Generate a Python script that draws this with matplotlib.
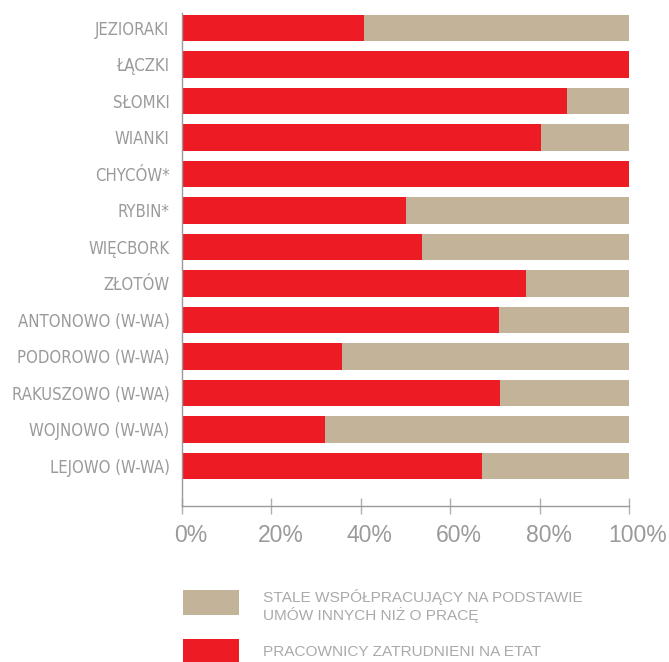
import matplotlib
matplotlib.use("Agg")
import matplotlib.pyplot as plt
from matplotlib.patches import Rectangle
from matplotlib.transforms import ScaledTranslation

# udział pracowników etatowych (%) w poszczególnych lokalizacjach
places = ["JEZIORAKI", "ŁĄCZKI", "SŁOMKI", "WIANKI", "CHYCÓW*", "RYBIN*",
          "WIĘCBORK", "ZŁOTÓW", "ANTONOWO (W-WA)", "PODOROWO (W-WA)",
          "RAKUSZOWO (W-WA)", "WOJNOWO (W-WA)", "LEJOWO (W-WA)"]
etat = [40.8, 100, 86.1, 80.3, 100, 50.1, 53.8, 77.0, 70.9, 35.8, 71.1, 31.9, 67.1]
inne = [100 - v for v in etat]

legend_labels = ["STALE WSPÓŁPRACUJĄCY NA PODSTAWIE\nUMÓW INNYCH NIŻ O PRACĘ",
                 "PRACOWNICY ZATRUDNIENI NA ETAT"]
xticks = [0, 20, 40, 60, 80, 100]

RED = "#ED1C24"
TAN = "#C2B399"
GREY = "#9a9a9a"

fig = plt.figure(figsize=(6.69, 6.62), dpi=100)
ax = fig.add_axes([182 / 669, 1 - 506 / 662, 447 / 669, 493 / 662])

y = list(range(len(places)))
ax.barh(y, etat, height=0.72, color=RED, linewidth=0)
ax.barh(y, inne, left=etat, height=0.72, color=TAN, linewidth=0)

ax.set_xlim(0, 100)
ax.set_ylim(len(places) - 1 + 1.10, -0.41)

ax.set_yticks(y)
ax.set_yticklabels(places, family="DejaVu Sans", stretch="condensed",
                   fontsize=12, color=GREY)
ax.tick_params(axis="y", length=0, pad=9)

ax.set_xticks(xticks)
ax.set_xticklabels([f"{t}%" for t in xticks], family="Liberation Sans",
                   fontsize=16.5, color=GREY)
ax.tick_params(axis="x", direction="inout", length=12, width=1, color="#b0b0b0", pad=7)
# etykiety procentów lekko przesunięte w prawo
shift = ScaledTranslation(9 / 100, 0, fig.dpi_scale_trans)
for lbl in ax.get_xticklabels():
    lbl.set_transform(lbl.get_transform() + shift)

for s in ["top", "right"]:
    ax.spines[s].set_visible(False)
for s in ["left", "bottom"]:
    ax.spines[s].set_color("#9a9a9a")
    ax.spines[s].set_linewidth(1)

# legenda pod wykresem
for (col, lab, ytop, hgt) in [(TAN, legend_labels[0], 590, 25),
                              (RED, legend_labels[1], 639, 25)]:
    fig.add_artist(Rectangle((183 / 669, 1 - (ytop + hgt) / 662), 56 / 669, hgt / 662,
                             transform=fig.transFigure, color=col, linewidth=0))
fig.text(263 / 669, 1 - 589 / 662, legend_labels[0], family="Liberation Sans",
         fontsize=11.1, color="#aaaaaa", va="top", linespacing=1.15)
fig.text(263 / 669, 1 - 645 / 662, legend_labels[1], family="Liberation Sans",
         fontsize=11.1, color="#aaaaaa", va="top")

fig.savefig("out.png", dpi=100)
